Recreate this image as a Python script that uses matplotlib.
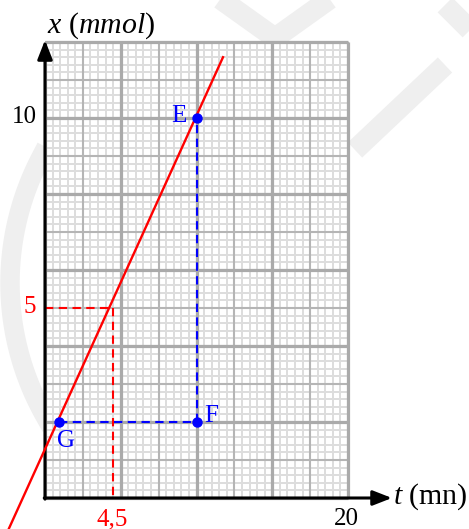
import numpy as np
import matplotlib
matplotlib.use("Agg")
import matplotlib.pyplot as plt

plt.rcParams['font.family'] = ['Liberation Serif', 'DejaVu Serif']
plt.rcParams['mathtext.fontset'] = 'custom'
plt.rcParams['mathtext.rm'] = 'Liberation Serif'
plt.rcParams['mathtext.it'] = 'Liberation Serif:italic'

# points read on the graph paper (t in mn, x in mmol)
pt_E = (10, 10)
pt_F = (10, 2)
pt_G = (0.9, 2)
t_half = 4.5
x_half = 5

# tangent line ends
t_line = [-2.4, 11.75]
x_line = [-0.82, 11.6]

t_max, x_max = 20, 12
t_ticks = [20]
t_ticklabels = ['20']
x_ticks = [10]
x_ticklabels = ['10']

W, H = 469, 529
fig = plt.figure(figsize=(W / 100, H / 100), dpi=100)

# faint background marks
bg = fig.add_axes([0, 0, 1, 1])
bg.set_xlim(0, W)
bg.set_ylim(H, 0)
bg.axis('off')
wm = '#efefef'
bg.plot([205, 275, 345], [-12, 38, -12], color=wm, lw=15, solid_capstyle='butt')
bg.plot([355, 445], [150, 65], color=wm, lw=15, solid_capstyle='butt')
bg.plot([445, 480], [5, 40], color=wm, lw=15, solid_capstyle='butt')
a = np.linspace(np.radians(150), np.radians(208), 60)
bg.plot(281 + 271 * np.cos(a), 283 + 271 * np.sin(a), color=wm, lw=14)

# main axes: data units laid directly over the figure
ax = fig.add_axes([0, 0, 1, 1])
ax.patch.set_alpha(0)
x0, y0 = 45, 498          # origin in pixels
sx = (348 - x0) / t_max   # px per mn
sy = (y0 - 42) / x_max    # px per mmol
ax.set_xlim(-x0 / sx, (W - x0) / sx)
ax.set_ylim((y0 - H) / sy, y0 / sy)
ax.axis('off')

ax.fill_between([0, t_max], 0, x_max, color='white', zorder=0)

# graph paper
ax.vlines(np.arange(0, t_max + 0.01, 0.5), 0, x_max, color='#dddddd', lw=1.4, zorder=1)
ax.hlines(np.arange(0, x_max + 0.01, 0.2), 0, t_max, color='#dddddd', lw=1.4, zorder=1)
ax.vlines(np.arange(0, t_max + 0.01, 2.5), 0, x_max, color='#b5b5b5', lw=1.5, zorder=2)
ax.hlines(np.arange(0, x_max + 0.01, 1), 0, t_max, color='#b5b5b5', lw=1.5, zorder=2)
ax.vlines(np.arange(0, t_max + 0.01, 5), 0, x_max, color='#aaaaaa', lw=2.3, zorder=3)
ax.hlines(np.arange(0, x_max + 0.01, 2), 0, t_max, color='#aaaaaa', lw=2.3, zorder=3)

# axes with arrows
arrow = dict(arrowstyle='-|>,head_length=1.15,head_width=0.45', mutation_scale=10,
             color='black', lw=2.2, shrinkA=0, shrinkB=0)
ax.annotate('', xy=(0, 12.05), xytext=(0, -0.03), arrowprops=arrow, zorder=6)
ax.annotate('', xy=(22.9, 0), xytext=(-0.05, 0), arrowprops=arrow, zorder=6)

# reading lines
dash = dict(lw=1.5, dashes=(4, 2.6), zorder=5)
ax.plot([0, t_half], [x_half, x_half], color='red', **dash)
ax.plot([t_half, t_half], [x_half, 0], color='red', **dash)
ax.plot([pt_G[0], pt_F[0]], [pt_G[1], pt_F[1]], color='blue', **dash)
ax.plot([pt_F[0], pt_E[0]], [pt_F[1], pt_E[1]], color='blue', **dash)

ax.plot(t_line, x_line, color='red', lw=1.7, zorder=7, clip_on=False)

for p in (pt_E, pt_F, pt_G):
    ax.plot(*p, 'o', color='blue', ms=6.5, zorder=8)

fs = 18
ax.text(8.85, 9.89, 'E', color='blue', fontsize=fs, ha='center', va='baseline', zorder=9)
ax.text(10.99, 2.0, 'F', color='blue', fontsize=fs, ha='center', va='baseline', zorder=9)
ax.text(1.39, 1.34, 'G', color='blue', fontsize=fs, ha='center', va='baseline', zorder=9)

ax.text(-0.59, 4.87, '5', color='red', fontsize=fs, ha='right', va='baseline')
ax.text(t_half - 0.04, -0.71, '4,5', color='red', fontsize=fs, ha='center', va='baseline')
for v, lab in zip(x_ticks, x_ticklabels):
    ax.text(-0.53, v - 0.13, lab, fontsize=fs, ha='right', va='baseline')
for v, lab in zip(t_ticks, t_ticklabels):
    ax.text(v - 0.1, -0.71, lab, fontsize=fs, ha='center', va='baseline')

fl = 21.5
ax.text(0.13, 12.24, r'$x$ ($mmol$)', fontsize=fl, ha='left', va='baseline')
ax.text(23.0, -0.16, r'$t$ (mn)', fontsize=fl, ha='left', va='baseline')

fig.savefig('out.png', dpi=100)
